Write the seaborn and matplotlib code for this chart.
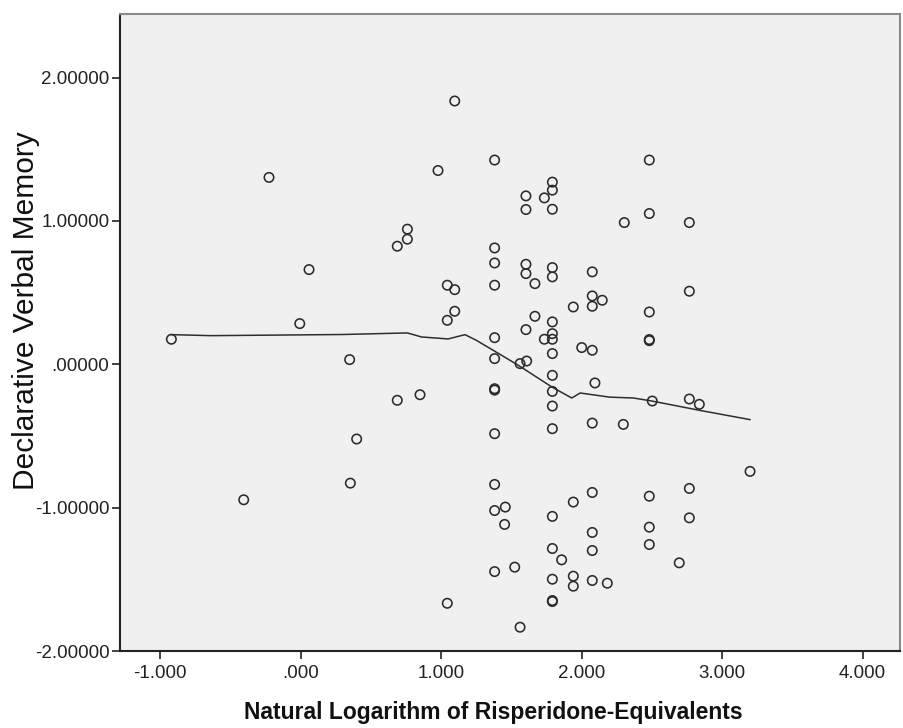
import matplotlib
matplotlib.use("Agg")
import matplotlib.pyplot as plt
import seaborn as sns
import pandas as pd

# scatter points: ln(risperidone equivalents) vs declarative verbal memory
dose_ln = [
    -0.92, -0.405, -0.225, -0.006, 0.060, 0.349, 0.354, 0.399, 0.688, 0.688,
    0.760, 0.760, 0.850, 0.978, 1.044, 1.044, 1.044, 1.097, 1.097, 1.097,
    1.381, 1.381, 1.381, 1.381, 1.381, 1.381, 1.381, 1.381, 1.381, 1.381,
    1.381, 1.381, 1.457, 1.452, 1.524, 1.562, 1.562, 1.609,
    1.604, 1.604, 1.604, 1.604, 1.604, 1.668, 1.668, 1.735, 1.735,
    1.792, 1.792, 1.792, 1.792, 1.792, 1.792, 1.792, 1.792, 1.792, 1.792,
    1.792, 1.792, 1.792, 1.792, 1.792, 1.792, 1.792, 1.792,
    1.858, 1.941, 1.941, 1.941, 1.941, 2.001,
    2.076, 2.076, 2.076, 2.076, 2.076, 2.076, 2.076, 2.076, 2.076,
    2.095, 2.147, 2.183, 2.297, 2.304,
    2.482, 2.482, 2.482, 2.482, 2.482, 2.482, 2.482, 2.482,
    2.503, 2.695, 2.767, 2.767, 2.767, 2.767, 2.767, 2.838, 3.199,
]
memory = [
    0.175, -0.945, 1.304, 0.284, 0.661, 0.033, -0.829, -0.521, 0.824, -0.251,
    0.943, 0.873, -0.212, 1.352, 0.552, 0.307, -1.667, 1.837, 0.521, 0.370,
    1.425, 0.812, 0.707, 0.552, 0.186, 0.040, -0.170, -0.180, -0.484, -0.838,
    -1.020, -1.446, -0.996, -1.117, -1.415, -1.834, 0.005, 0.023,
    1.175, 1.080, 0.698, 0.633, 0.242, 0.563, 0.335, 1.161, 0.175,
    1.271, 1.215, 1.082, 0.675, 0.610, 0.296, 0.214, 0.175, 0.075, -0.077,
    -0.189, -0.291, -0.449, -1.061, -1.285, -1.499, -1.648, -1.655,
    -1.364, 0.400, -0.961, -1.478, -1.548, 0.117,
    0.645, 0.477, 0.405, 0.098, -0.410, -0.894, -1.173, -1.299, -1.508,
    -0.130, 0.447, -1.527, -0.419, 0.989,
    1.425, 1.052, 0.365, 0.173, 0.165, -0.920, -1.136, -1.257,
    -0.256, -1.385, 0.989, 0.510, -0.242, -0.866, -1.071, -0.279, -0.747,
]

# fit line (loess)
fit_x = [-0.92, -0.64, 0.30, 0.76, 0.86, 1.05, 1.17, 1.25, 1.41, 1.55,
         1.79, 1.93, 1.99, 2.20, 2.37, 2.50, 2.84, 3.20]
fit_y = [0.207, 0.200, 0.208, 0.219, 0.191, 0.177, 0.207, 0.168, 0.075, -0.007,
         -0.159, -0.235, -0.200, -0.229, -0.235, -0.256, -0.321, -0.386]

x_ticks = [-1, 0, 1, 2, 3, 4]
x_ticklabels = ["-1.000", ".000", "1.000", "2.000", "3.000", "4.000"]
y_ticks = [-2, -1, 0, 1, 2]
y_ticklabels = ["-2.00000", "-1.00000", ".00000", "1.00000", "2.00000"]

df = pd.DataFrame({"x": dose_ln, "y": memory})
fit = pd.DataFrame({"x": fit_x, "y": fit_y})

sns.set_style("ticks")
plt.rcParams["font.family"] = ["Liberation Sans", "DejaVu Sans"]

fig = plt.figure(figsize=(9.04, 7.28), dpi=100)
ax = fig.add_axes([120.5 / 904, 1 - 651 / 728, (900.5 - 120.5) / 904, (651 - 14) / 728])
ax.set_facecolor("#f0f0f0")

sns.lineplot(data=fit, x="x", y="y", ax=ax, color="#2e2e2e", linewidth=1.1,
             estimator=None, sort=False, zorder=2)
sns.scatterplot(data=df, x="x", y="y", ax=ax, marker="o", s=46,
                facecolors="none", edgecolor="#2b2b2b", linewidth=1.15, zorder=3)

ax.set_xlim(-1.282, 4.27)
ax.set_ylim(-2.0, 2.444)
ax.set_xticks(x_ticks)
ax.set_xticklabels(x_ticklabels)
ax.set_yticks(y_ticks)
ax.set_yticklabels(y_ticklabels)
ax.tick_params(axis="both", direction="out", length=6, width=1.2, colors="#222222",
               labelsize=13.5, pad=2)
ax.tick_params(axis="x", pad=4)

for side in ["left", "bottom"]:
    ax.spines[side].set_color("#222222")
    ax.spines[side].set_linewidth(1.5)
for side in ["top", "right"]:
    ax.spines[side].set_color("#8a8a8a")
    ax.spines[side].set_linewidth(1.5)

ax.set_xlabel("Natural Logarithm of Risperidone-Equivalents", fontsize=16.5,
              fontweight="bold", color="#111111")
ax.xaxis.set_label_coords(0.4776, -0.078)
ax.set_ylabel("Declarative Verbal Memory", fontsize=21.5, color="#111111")
ax.yaxis.set_label_coords(-0.103, 0.535)

fig.savefig("out.png", dpi=100)
